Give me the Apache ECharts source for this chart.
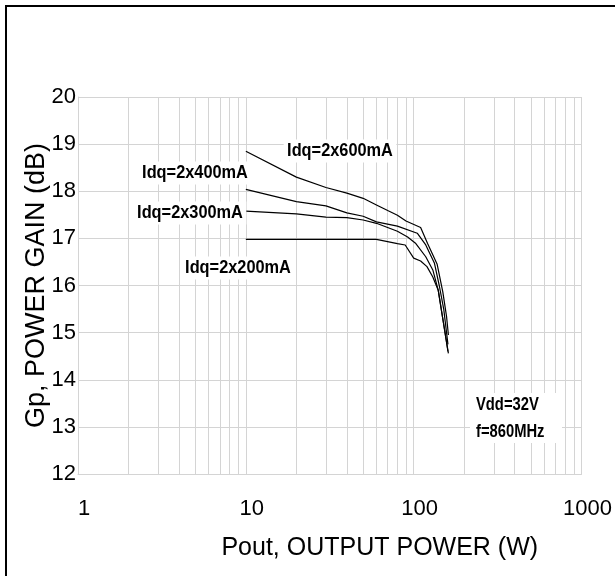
<!DOCTYPE html>
<html>
<head>
<meta charset="utf-8">
<script src="https://cdn.jsdelivr.net/npm/echarts@6/dist/echarts.min.js"></script>
<style>
html,body{margin:0;padding:0;background:#fff;}
#chart{width:615px;height:576px;}
</style>
</head>
<body>
<div id="chart"></div>
<script>
// ---- data ----
var seriesNames = ['Idq=2x600mA', 'Idq=2x400mA', 'Idq=2x300mA', 'Idq=2x200mA'];
var idq600 = [[10,18.85],[20,18.30],[30,18.08],[40,17.96],[50,17.85],[60,17.71],[70,17.59],[80,17.49],[90,17.37],[110,17.23],[121,16.89],[138,16.45],[149,15.87],[157,15.34],[161,14.95]];
var idq400 = [[10,18.04],[20,17.78],[30,17.69],[40,17.54],[50,17.47],[60,17.35],[80,17.26],[105,17.11],[118,16.86],[133,16.47],[142,16.00],[151,15.50],[157,15.00],[160,14.75]];
var idq300 = [[10,17.58],[20,17.52],[30,17.45],[40,17.44],[50,17.39],[60,17.32],[80,17.15],[92,17.03],[103,16.89],[118,16.61],[130,16.33],[140,15.90],[149,15.30],[157,14.80],[161,14.56]];
var idq200 = [[10,16.98],[20,16.98],[30,16.98],[40,16.98],[60,16.98],[80,16.89],[89,16.86],[100,16.58],[110,16.52],[120,16.40],[130,16.18],[140,15.90],[149,15.30],[156,14.85],[160,14.60]];
var minorGridX = [2,3,4,5,6,7,8,9,20,30,40,50,60,70,80,90,200,300,400,500,600,700,800,900];
var xTitle = 'Pout, OUTPUT POWER (W)';
var yTitle = 'Gp, POWER GAIN (dB)';
var noteLines = ['Vdd=32V', 'f=860MHz'];

var FONT = "'Liberation Sans', Arial, sans-serif";
var GRID = '#d4d4d4';

function curve(name, data) {
  return {
    name: name, type: 'line', data: data, symbol: 'none', z: 5,
    lineStyle: { color: '#000', width: 1.2 }, animation: false
  };
}

function label(text, cx, cy, sx) {
  return {
    type: 'text', x: cx, y: cy, scaleX: sx, z: 100,
    style: {
      text: text, fill: '#000', font: 'bold 19px ' + FONT,
      textAlign: 'center', textVerticalAlign: 'middle',
      backgroundColor: '#fff', padding: [2, 4]
    }
  };
}

var chart = echarts.init(document.getElementById('chart'), null, { renderer: 'canvas' });
chart.setOption({
  animation: false,
  backgroundColor: '#fff',
  grid: { left: 78, right: 28, top: 97, bottom: 102, containLabel: false },
  xAxis: {
    type: 'log', logBase: 10, min: 1, max: 1000,
    axisLine: { show: true, lineStyle: { color: GRID, width: 1 } },
    axisTick: { show: false },
    minorTick: { show: false },
    splitLine: { show: true, lineStyle: { color: GRID, width: 1 } },
    axisLabel: {
      color: '#000', fontFamily: FONT, fontSize: 22, margin: 24, padding: [0, 0, 0, 12],
      formatter: function (v) { return String(Math.round(v)); }
    },
    name: xTitle, nameLocation: 'middle', nameGap: 62,
    nameTextStyle: { color: '#000', fontFamily: FONT, fontSize: 25, padding: [0, 0, 0, 100] }
  },
  yAxis: {
    type: 'value', min: 12, max: 20, interval: 1,
    axisLine: { show: true, lineStyle: { color: GRID, width: 1 } },
    axisTick: { show: false },
    splitLine: { show: true, lineStyle: { color: GRID, width: 1 } },
    axisLabel: { color: '#000', fontFamily: FONT, fontSize: 22, margin: 2 },
    name: yTitle, nameLocation: 'middle', nameGap: 28, nameRotate: 90, nameMoveOverlap: false,
    nameTextStyle: { color: '#000', fontFamily: FONT, fontSize: 27 }
  },
  series: [
    {
      type: 'line', data: [], z: 1, silent: true,
      markLine: {
        silent: true, symbol: ['none', 'none'], animation: false,
        label: { show: false },
        lineStyle: { color: GRID, width: 1, type: 'solid' },
        data: minorGridX.map(function (v) { return { xAxis: v }; })
      }
    },
    curve(seriesNames[0], idq600),
    curve(seriesNames[1], idq400),
    curve(seriesNames[2], idq300),
    curve(seriesNames[3], idq200)
  ],
  graphic: [
    {
      type: 'rect', z: 200, silent: true,
      shape: { x: 6, y: 6, width: 800, height: 800 },
      style: { fill: 'none', stroke: '#000', lineWidth: 2 }
    },
    label(seriesNames[0], 340, 151, 0.86),
    label(seriesNames[1], 195, 173, 0.86),
    label(seriesNames[2], 190, 213, 0.86),
    label(seriesNames[3], 238, 268, 0.86),
    {
      type: 'rect', z: 90, silent: true,
      shape: { x: 470, y: 393, width: 92, height: 50 },
      style: { fill: '#fff' }
    },
    {
      type: 'text', x: 476, y: 405, scaleX: 0.82, z: 100,
      style: { text: noteLines[0], fill: '#000', font: 'bold 18px ' + FONT, textAlign: 'left', textVerticalAlign: 'middle' }
    },
    {
      type: 'text', x: 476, y: 432, scaleX: 0.82, z: 100,
      style: { text: noteLines[1], fill: '#000', font: 'bold 18px ' + FONT, textAlign: 'left', textVerticalAlign: 'middle' }
    }
  ]
});
</script>
</body>
</html>
